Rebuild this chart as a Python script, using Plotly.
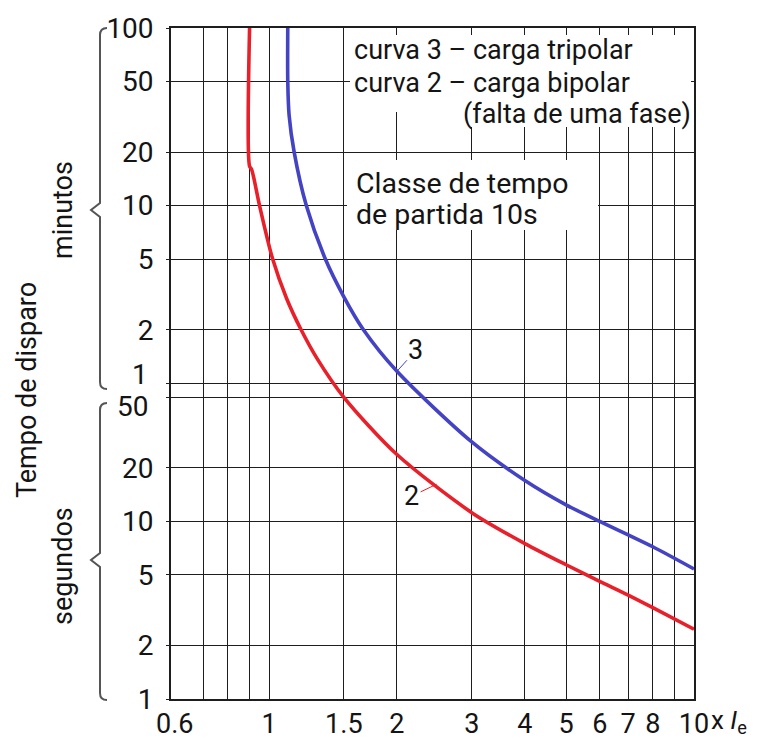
import math
import plotly.graph_objects as go

# ---------------- data ----------------
# x: multiple of rated current (x Ie); t: tripping time in seconds
curve3_x = [1.107, 1.107, 1.115, 1.146, 1.224, 1.357, 1.5, 1.668, 2.0, 3, 4, 5, 6, 7, 8, 10]
curve3_t = [6000, 3000, 1940, 1200, 600, 300, 184, 120, 70, 28, 17.0, 12.4, 10.0, 8.4, 7.2, 5.4]

curve2_x = [0.9, 0.9, 0.91, 0.95, 1.02, 1.1, 1.19, 1.3, 1.5, 2.0, 3, 4, 5, 6, 7, 8, 10]
curve2_t = [6000, 1000, 960, 600, 300, 180, 120, 82, 50, 23.8, 11.2, 7.5, 5.7, 4.6, 3.85, 3.27, 2.47]

x_tick_vals = [0.6, 1, 1.5, 2, 3, 4, 5, 6, 7, 8, 10]
x_tick_text = ["0.6", "1", "1.5", "2", "3", "4", "5", "6", "7", "8", "10"]
x_grid_vals = [0.7, 0.8, 0.9, 1, 1.5, 2, 3, 4, 5, 6, 7, 8, 9]

# y ticks: seconds 1..50, then minutes 1..100 (expressed in seconds)
y_tick_vals = [1, 2, 5, 10, 20, 50, 60, 120, 300, 600, 1200, 3000, 6000]
y_tick_text = ["1", "2", "5", "10", "20", " ", " ", "2", "5", "10", "20", "50", "100"]

RED = "#e8202a"
BLUE = "#4343c4"
GRID = "#1e1e1e"
TXT = "#141414"
FONT = "Roboto"

# page is offset by the 8px body margin
OFF = 8
W, H = 765 - OFF, 740 - OFF
L, R, T, B = 171, 694, 28, 699   # plot box in page pixels


def px(x):
    return (x - L) / (R - L)


def py(y):
    return (B - y) / (B - T)


fig = go.Figure()
fig.add_trace(go.Scatter(x=curve3_x, y=curve3_t, mode="lines",
                         line=dict(color=BLUE, width=3.6, shape="spline", smoothing=0.8),
                         showlegend=False, hoverinfo="skip"))
fig.add_trace(go.Scatter(x=curve2_x, y=curve2_t, mode="lines",
                         line=dict(color=RED, width=3.6, shape="spline", smoothing=0.8),
                         showlegend=False, hoverinfo="skip"))

fig.update_layout(
    width=W, height=H,
    margin=dict(l=L - OFF, r=W - (R - OFF), t=T - OFF, b=H - (B - OFF), autoexpand=False),
    paper_bgcolor="white", plot_bgcolor="white",
    font=dict(family=FONT, color=TXT, size=28),
    showlegend=False,
)

fig.update_xaxes(
    type="log", range=[math.log10(0.588), 1.0],
    tickmode="array", tickvals=x_tick_vals, ticktext=x_tick_text,
    showgrid=False, ticks="", tickfont=dict(size=27, family=FONT, color=TXT),
    showline=True, linecolor=GRID, linewidth=1.6, mirror=True,
    minor=dict(tickmode="array", tickvals=x_grid_vals, showgrid=True,
               gridcolor=GRID, gridwidth=1.4, ticks=""),
    zeroline=False, ticklabelstandoff=0, automargin=False,
)

fig.update_yaxes(
    type="log", range=[0, math.log10(6000)],
    tickmode="array", tickvals=y_tick_vals, ticktext=y_tick_text,
    showgrid=True, gridcolor=GRID, gridwidth=1.4,
    ticks="outside", ticklen=3, tickcolor=GRID,
    tickfont=dict(size=28, family=FONT, color=TXT),
    showline=True, linecolor=GRID, linewidth=1.6, mirror=True,
    zeroline=False, ticklabelstandoff=7, automargin=False,
)

shapes = []
# white boxes behind the texts
for x0, x1, y0, y1 in [(350, 691, 35, 112), (463, 691, 100, 127), (347, 598, 160, 230)]:
    shapes.append(dict(type="rect", xref="paper", yref="paper",
                       x0=px(x0), x1=px(x1), y0=py(y1), y1=py(y0),
                       fillcolor="white", line=dict(width=0), layer="above"))


def brace(top, tip, bottom):
    pts = f"M {px(107)},{py(top)} Q {px(100)},{py(top)} {px(100)},{py(top + 7)} " \
          f"L {px(100)},{py(tip - 7)} L {px(91)},{py(tip)} L {px(100)},{py(tip + 7)} " \
          f"L {px(100)},{py(bottom - 7)} Q {px(100)},{py(bottom)} {px(107)},{py(bottom)}"
    return dict(type="path", xref="paper", yref="paper", path=pts,
                line=dict(color="#555555", width=2), layer="above")


shapes.append(brace(28, 210, 389))
shapes.append(brace(403, 560, 700))
fig.update_layout(shapes=shapes)

ann = []


def text(x, y, s, size, xanchor="left", angle=0):
    ann.append(dict(x=px(x), y=py(y), xref="paper", yref="paper", text=s,
                    showarrow=False, xanchor=xanchor, yanchor="middle",
                    textangle=angle, font=dict(size=size, family=FONT, color=TXT)))


text(352, 50, "curva 3 – carga tripolar", 27)
text(352, 83, "curva 2 – carga bipolar", 27)
text(693, 114, "(falta de uma fase)", 27, xanchor="right")
text(354, 184, "Classe de tempo", 28.5)
text(354, 215, "de partida 10s", 28.5)

text(27, 390, "Tempo de disparo", 27, xanchor="center", angle=-90)
text(63, 210, "minutos", 27, xanchor="center", angle=-90)
text(63, 566, "segundos", 27, xanchor="center", angle=-90)

# bottom-right unit label
text(709, 722, "x <i>I</i><sub>e</sub>", 26)

# the two close y tick labels ("1" minute and "50" seconds)
ann.append(dict(x=px(150), y=math.log10(60), xref="paper", yref="y", text="1",
                showarrow=False, xanchor="right", yanchor="middle", yshift=9,
                font=dict(size=28, family=FONT, color=TXT)))
ann.append(dict(x=px(150), y=math.log10(50), xref="paper", yref="y", text="50",
                showarrow=False, xanchor="right", yanchor="middle", yshift=-9,
                font=dict(size=28, family=FONT, color=TXT)))

# curve callouts
ann.append(dict(x=math.log10(2.0), y=math.log10(70), xref="x", yref="y", text="3",
                showarrow=True, arrowhead=0, arrowwidth=1, arrowcolor=BLUE,
                ax=19, ay=-21, font=dict(size=27, family=FONT, color=TXT)))
ann.append(dict(x=math.log10(2.48), y=math.log10(16.2), xref="x", yref="y", text="2",
                showarrow=True, arrowhead=0, arrowwidth=1, arrowcolor=RED,
                ax=-25, ay=12, font=dict(size=27, family=FONT, color=TXT)))

fig.update_layout(annotations=ann)

fig.write_html("out.html")
